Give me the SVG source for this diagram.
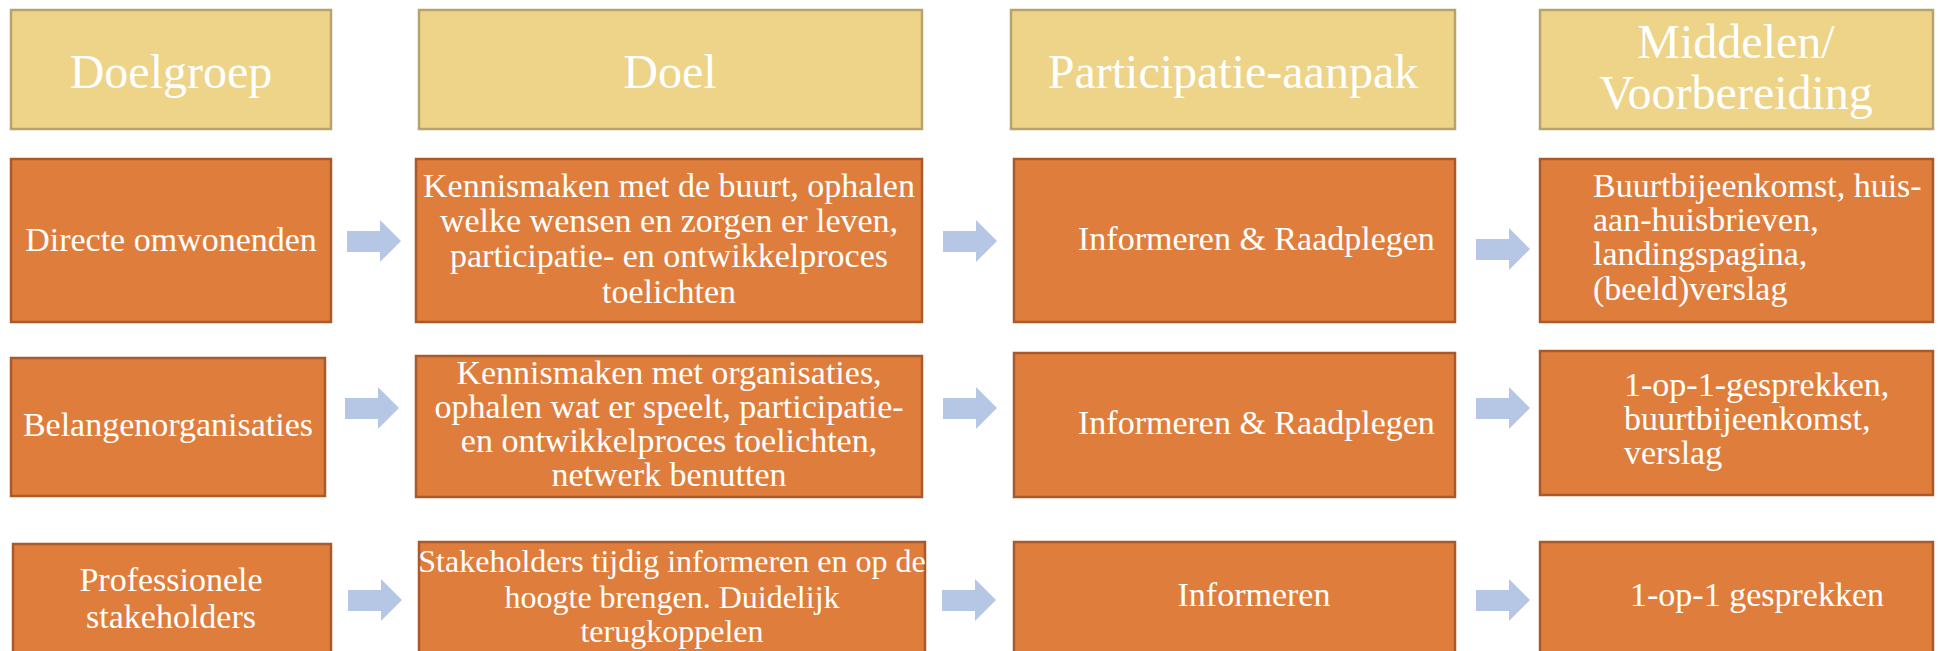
<svg xmlns="http://www.w3.org/2000/svg" xmlns:xlink="http://www.w3.org/1999/xlink" width="1940" height="651" viewBox="0 0 1940 651">
<style>
.hd{fill:#EED488;stroke:#B8A46A;stroke-width:2.5}
.bx{fill:#DF7E3C;stroke:#AA5A2A;stroke-width:2.5}
.t{font-family:"Liberation Serif","Times New Roman",serif;fill:#FFFFFF}
.th{font-size:48px;text-anchor:middle}
.tb{font-size:34px}
.c{text-anchor:middle}
.s{text-anchor:start}
.arr{fill:#B5C7E5}
</style>
<defs>
<path id="arrow" d="M0,11 H33 V0 L54,21 L33,42 V32 H0 Z"/>
</defs>
<rect width="1940" height="651" fill="#FFFFFF"/>

<g id="connectors" class="arr">
<use xlink:href="#arrow" href="#arrow" x="347" y="220"/>
<use xlink:href="#arrow" href="#arrow" x="943" y="220"/>
<use xlink:href="#arrow" href="#arrow" x="1476" y="228"/>
<use xlink:href="#arrow" href="#arrow" x="345" y="387"/>
<use xlink:href="#arrow" href="#arrow" x="943" y="387"/>
<use xlink:href="#arrow" href="#arrow" x="1476" y="387"/>
<use xlink:href="#arrow" href="#arrow" x="348" y="579"/>
<use xlink:href="#arrow" href="#arrow" x="942" y="579"/>
<use xlink:href="#arrow" href="#arrow" x="1476" y="579"/>
</g>

<g id="h-doelgroep">
<rect class="hd" x="11" y="10" width="320" height="119"/>
<text class="t th" x="171" y="88">Doelgroep</text>
</g>
<g id="h-doel">
<rect class="hd" x="419" y="10" width="503" height="119"/>
<text class="t th" x="670" y="88">Doel</text>
</g>
<g id="h-aanpak">
<rect class="hd" x="1011" y="10" width="444" height="119"/>
<text class="t th" x="1233" y="88">Participatie-aanpak</text>
</g>
<g id="h-middelen">
<rect class="hd" x="1540" y="10" width="393" height="119"/>
<text class="t th" x="1736" y="58">Middelen/</text>
<text class="t th" x="1736" y="109">Voorbereiding</text>
</g>

<g id="r1-doelgroep">
<rect class="bx" x="11" y="159" width="320" height="163"/>
<text class="t tb c" x="171" y="251">Directe omwonenden</text>
</g>
<g id="r1-doel">
<rect class="bx" x="416" y="159" width="506" height="163"/>
<text class="t tb c" x="669" y="197">Kennismaken met de buurt, ophalen</text>
<text class="t tb c" x="669" y="232">welke wensen en zorgen er leven,</text>
<text class="t tb c" x="669" y="267">participatie- en ontwikkelproces</text>
<text class="t tb c" x="669" y="303">toelichten</text>
</g>
<g id="r1-aanpak">
<rect class="bx" x="1014" y="159" width="441" height="163"/>
<text class="t tb s" x="1078" y="250">Informeren &amp; Raadplegen</text>
</g>
<g id="r1-middelen">
<rect class="bx" x="1540" y="159" width="393" height="163"/>
<text class="t tb s" x="1593" y="197">Buurtbijeenkomst, huis-</text>
<text class="t tb s" x="1593" y="231">aan-huisbrieven,</text>
<text class="t tb s" x="1593" y="265">landingspagina,</text>
<text class="t tb s" x="1593" y="300">(beeld)verslag</text>
</g>

<g id="r2-doelgroep">
<rect class="bx" x="11" y="358" width="314" height="138"/>
<text class="t tb c" x="168" y="436">Belangenorganisaties</text>
</g>
<g id="r2-doel">
<rect class="bx" x="416" y="356" width="506" height="141"/>
<text class="t tb c" x="669" y="384">Kennismaken met organisaties,</text>
<text class="t tb c" x="669" y="418">ophalen wat er speelt, participatie-</text>
<text class="t tb c" x="669" y="452">en ontwikkelproces toelichten,</text>
<text class="t tb c" x="669" y="486">netwerk benutten</text>
</g>
<g id="r2-aanpak">
<rect class="bx" x="1014" y="353" width="441" height="144"/>
<text class="t tb s" x="1078" y="434">Informeren &amp; Raadplegen</text>
</g>
<g id="r2-middelen">
<rect class="bx" x="1540" y="351" width="393" height="144"/>
<text class="t tb s" x="1624" y="396">1-op-1-gesprekken,</text>
<text class="t tb s" x="1624" y="430">buurtbijeenkomst,</text>
<text class="t tb s" x="1624" y="464">verslag</text>
</g>

<g id="r3-doelgroep">
<rect class="bx" x="13" y="544" width="318" height="140"/>
<text class="t tb c" x="171" y="591">Professionele</text>
<text class="t tb c" x="171" y="628">stakeholders</text>
</g>
<g id="r3-doel">
<rect class="bx" x="419" y="542" width="506" height="142"/>
<text class="t c" font-size="32" x="672" y="572">Stakeholders tijdig informeren en op de</text>
<text class="t c" font-size="32" x="672" y="608">hoogte brengen. Duidelijk</text>
<text class="t c" font-size="32" x="672" y="642">terugkoppelen</text>
</g>
<g id="r3-aanpak">
<rect class="bx" x="1014" y="542" width="441" height="142"/>
<text class="t tb c" x="1254" y="606">Informeren</text>
</g>
<g id="r3-middelen">
<rect class="bx" x="1540" y="542" width="393" height="142"/>
<text class="t tb c" x="1757" y="606">1-op-1 gesprekken</text>
</g>
</svg>
